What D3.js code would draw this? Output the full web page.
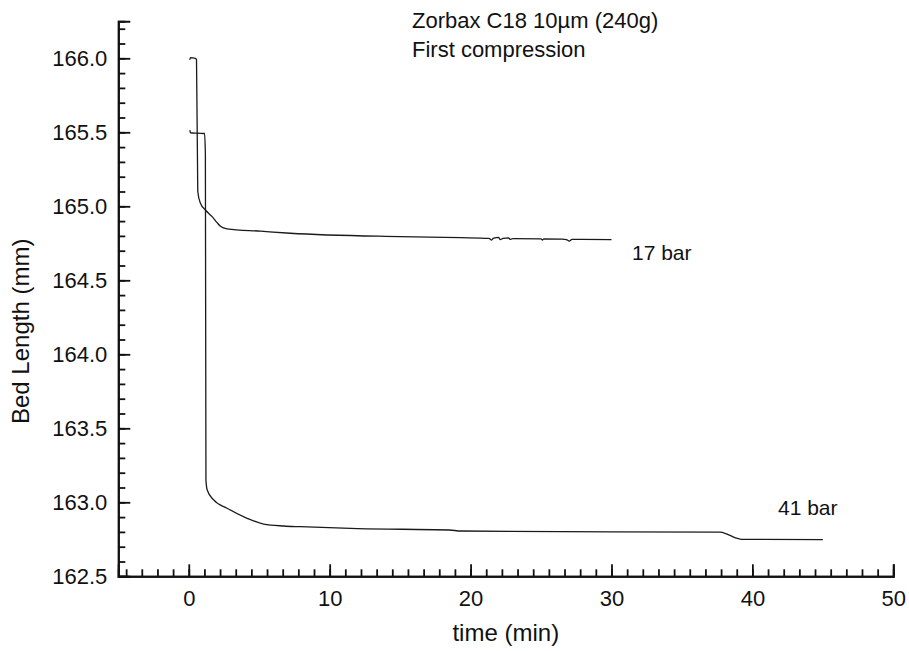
<html>
<head>
	<title>Bed Length</title>
	<meta charset="utf-8">
	<script src="https://d3js.org/d3.v7.min.js"></script>
	<style>
		body { margin: 0; background: #fff; }
		text { font-family: "Liberation Sans", Arial, Helvetica, sans-serif; fill: #111; }
	</style>
</head>
<body>
	<script type="text/javascript">
		// values
		var time17 = [0.07, 0.12, 0.47, 0.55, 0.64, 0.83, 1.18, 1.66, 2.01, 2.25, 2.72, 5.1, 7.2, 15.0, 19.3,
		              21.3, 21.5, 21.6, 22.0, 22.1, 22.3, 22.7, 22.8, 23.0, 25.0, 25.1, 25.2, 26.5, 26.8, 27.0, 27.2, 30.0]
		var len17  = [165.99, 166.005, 166.0, 165.99, 165.10, 165.02, 164.975, 164.93, 164.89, 164.865, 164.848, 164.832, 164.818, 164.795, 164.788,
		              164.783, 164.772, 164.783, 164.79, 164.775, 164.783, 164.787, 164.776, 164.782, 164.78, 164.772, 164.78, 164.778, 164.775, 164.765, 164.777, 164.775]

		var time41 = [0.08, 0.12, 0.6, 1.12, 1.18, 1.22, 1.31, 1.77, 2.72, 4.14, 5.32, 6.74, 7.9, 12.0, 18.5,
		              19.3, 30.0, 37.7, 38.2, 38.8, 39.2, 45.0]
		var len41  = [165.515, 165.497, 165.494, 165.492, 165.35, 163.15, 163.083, 163.016, 162.96, 162.892, 162.853, 162.84, 162.835, 162.822, 162.813,
		              162.806, 162.80, 162.798, 162.785, 162.76, 162.75, 162.748]

		var xTicks = [0, 10, 20, 30, 40, 50]
		var yTicks = [162.5, 163.0, 163.5, 164.0, 164.5, 165.0, 165.5, 166.0]
		var xMinorStep = 10 / 9
		var yMinorStep = 0.1

		var width = 909
		var height = 651

		var svg = d3.select("body").append("svg")
			.attr("width", width)
			.attr("height", height)

		var x = d3.scaleLinear().domain([-5, 50]).range([118.3, 893.3])
		var y = d3.scaleLinear().domain([162.5, 166.25]).range([576.3, 21.3])

		var xMinor = d3.range(-4, 46).map(function(i) { return i * xMinorStep }).filter(function(v) { return v > -5 && v < 50 })
		var yMinor = d3.range(0, 38).map(function(i) { return 162.5 + i * yMinorStep })

		// minor ticks
		svg.append("g")
			.attr("transform", "translate(0," + y.range()[0] + ")")
			.call(d3.axisBottom(x).tickValues(xMinor).tickSize(-7).tickFormat(""))
		svg.append("g")
			.attr("transform", "translate(" + x.range()[0] + ",0)")
			.call(d3.axisLeft(y).tickValues(yMinor).tickSize(-7).tickFormat(""))

		// major ticks + labels
		svg.append("g")
			.attr("transform", "translate(0," + y.range()[0] + ")")
			.call(d3.axisBottom(x).tickValues(xTicks).tickSize(-12).tickPadding(14).tickFormat(d3.format("d")))
		svg.append("g")
			.attr("transform", "translate(" + x.range()[0] + ",0)")
			.call(d3.axisLeft(y).tickValues(yTicks).tickSize(-12).tickPadding(11).tickFormat(d3.format(".1f")))

		svg.selectAll(".domain").attr("stroke", "#111").attr("stroke-width", 2)
		svg.selectAll(".tick line").attr("stroke", "#111").attr("stroke-width", 1.8)
		svg.selectAll(".tick text").attr("font-size", 22).attr("fill", "#111")
			.attr("font-family", '"Liberation Sans", Arial, sans-serif')

		// curves
		var line = d3.line()
			.x(function(d) { return x(d[0]) })
			.y(function(d) { return y(d[1]) })
			.curve(d3.curveMonotoneX)

		svg.append("path")
			.datum(d3.zip(time17, len17))
			.attr("d", line)
			.attr("fill", "none")
			.attr("stroke", "#1a1a1a")
			.attr("stroke-width", 1.3)

		svg.append("path")
			.datum(d3.zip(time41, len41))
			.attr("d", line)
			.attr("fill", "none")
			.attr("stroke", "#1a1a1a")
			.attr("stroke-width", 1.3)

		// labels
		svg.append("text").attr("x", 412).attr("y", 28).attr("font-size", 22).text("Zorbax C18 10\u00b5m (240g)")
		svg.append("text").attr("x", 412).attr("y", 57).attr("font-size", 22).text("First compression")
		svg.append("text").attr("x", 632).attr("y", 260).attr("font-size", 21).text("17 bar")
		svg.append("text").attr("x", 778).attr("y", 515).attr("font-size", 21).text("41 bar")

		svg.append("text")
			.attr("x", 505.8).attr("y", 641)
			.attr("text-anchor", "middle")
			.attr("font-size", 24)
			.text("time (min)")

		svg.append("text")
			.attr("transform", "translate(29,424) rotate(-90)")
			.attr("text-anchor", "start")
			.attr("font-size", 24)
			.text("Bed Length (mm)")
	</script>
</body>
</html>
